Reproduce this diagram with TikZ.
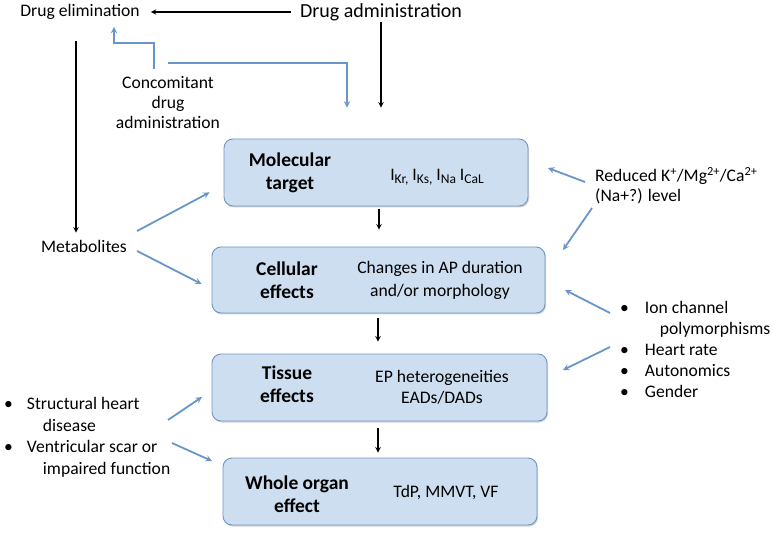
\documentclass[tikz,border=0pt]{standalone}
\usepackage{fontspec}
\setmainfont{Carlito}
\usepackage{xcolor}
\usepackage{tikz}
\usetikzlibrary{shadows}

\definecolor{boxfill}{RGB}{206,222,241}
\definecolor{boxline}{RGB}{112,150,200}
\definecolor{arrblue}{RGB}{104,150,200}

\newcommand{\isub}[1]{I\raisebox{-3.5pt}{\fontsize{13.5}{14}\selectfont #1}}

\tikzset{
  box/.style={draw=boxline,fill=boxfill,rounded corners=9pt,line width=0.9pt,
    drop shadow={shadow xshift=1pt,shadow yshift=-1.5pt,fill=black,opacity=0.18}},
  head/.style={font=\fontsize{19.5}{23}\selectfont\bfseries,align=center,inner sep=1pt},
  txt/.style={font=\fontsize{17.6}{23}\selectfont,align=center,inner sep=1pt},
  blk/.style={->,line width=1.4pt,>=stealth},
  blu/.style={->,line width=1.8pt,color=arrblue,>=stealth}
}

\begin{document}
\begin{tikzpicture}[x=1pt,y=-1pt]
  \useasboundingbox (0,0) rectangle (773,534);
  % the four level boxes
  \node[box,minimum width=304pt,minimum height=67pt] (mol) at (376,172.5) {};
  \node[box,minimum width=333pt,minimum height=66pt] (cell) at (378.5,280) {};
  \node[box,minimum width=335pt,minimum height=67pt] (tis) at (379.5,387.5) {};
  \node[box,minimum width=314pt,minimum height=67pt] (org) at (380,491.5) {};
  \node[head] (molh) at (290,173) {Molecular\\target};
  \node[txt] (molt) at (437,177) {\isub{Kr,} \isub{Ks,} \isub{Na} \isub{CaL}};
  \node[head] (cellh) at (287,280) {Cellular\\effects};
  \node[txt] (cellt) at (440,280) {Changes in AP duration\\and/or morphology};
  \node[head] (tish) at (287,384) {Tissue\\effects};
  \node[txt,font=\fontsize{17.6}{21}\selectfont] (tist) at (442,387) {EP heterogeneities\\EADs/DADs};
  \node[head] (orgh) at (297,494) {Whole organ\\effect};
  \node[txt] (orgt) at (446,493) {TdP, MMVT, VF};
  % top row and side texts
  \node[txt] (elim) at (80,12) {Drug elimination};
  \node[txt,font=\fontsize{20}{24}\selectfont] (adm) at (381,12) {Drug administration};
  \node[txt,font=\fontsize{17.6}{20}\selectfont] (conc) at (168,103) {Concomitant\\drug\\administration};
  \node[txt] (metab) at (84,246) {Metabolites};
  \node[txt,align=left,anchor=west,font=\fontsize{17.6}{20}\selectfont] (ions) at (594,186) {Reduced K\textsuperscript{+}/Mg\textsuperscript{2+}/Ca\textsuperscript{2+}\\(Na+?) level};
  \node[txt,align=left,anchor=north west,font=\fontsize{17.6}{21}\selectfont] (risk) at (619,298) {%
    \begin{tabular}{@{}l@{\hspace{16pt}}l@{}}
      \textbullet & Ion channel\\
                  & \hspace{15pt}polymorphisms\\
      \textbullet & Heart rate\\
      \textbullet & Autonomics\\
      \textbullet & Gender
    \end{tabular}};
  \node[txt,align=left,anchor=north west,font=\fontsize{17.6}{21.7}\selectfont] (heart) at (3,393) {%
    \begin{tabular}{@{}l@{\hspace{14pt}}l@{}}
      \textbullet & Structural heart\\
                  & \hspace{16pt}disease\\
      \textbullet & Ventricular scar or\\
                  & \hspace{16pt}impaired function
    \end{tabular}};
  % black arrows
  \draw[blk] ([xshift=-8pt]adm.west) -- ([xshift=10pt]elim.east);
  \draw[blk] (adm.south) -- ([yshift=31pt]mol.north -| adm.south);
  \draw[blk] ([yshift=-20pt]elim.south -| 76,0) -- ([yshift=6pt]metab.north -| 76,0);
  \draw[blk] ([yshift=-3pt]mol.south -| 379,0) -- ([yshift=17pt]cell.north -| 379,0);
  \draw[blk] ([yshift=-5pt]cell.south -| 378,0) -- ([yshift=12pt]tis.north -| 378,0);
  \draw[blk] ([yshift=-7pt]tis.south -| 378,0) -- ([yshift=5pt]org.north -| 378,0);
  % blue arrows
  \draw[blu] (conc.north -| 154,0) ++(0,-7) |- (114,43) -- ([yshift=-6pt]elim.south -| 114,0);
  \draw[blu] (conc.north |- 0,63) -- (347,63) -- ([yshift=31pt]mol.north -| 347,0);
  \draw[blu] ([xshift=9pt,yshift=15pt]metab.east) -- ([xshift=-14pt,yshift=14pt]mol.south west);
  \draw[blu] ([xshift=9pt,yshift=-5pt]metab.east) -- ([xshift=-10pt,yshift=-4pt]cell.west);
  \draw[blu] ([xshift=-9pt]ions.west |- 0,182) -- (548,168);
  \draw[blu] (592,208) -- (563,250);
  \draw[blu] (610,313) -- (565,290);
  \draw[blu] (610,347) -- (563,370);
  \draw[blu] (168,420) -- (202,397);
  \draw[blu] (172,443) -- (212,461);
\end{tikzpicture}
\end{document}
